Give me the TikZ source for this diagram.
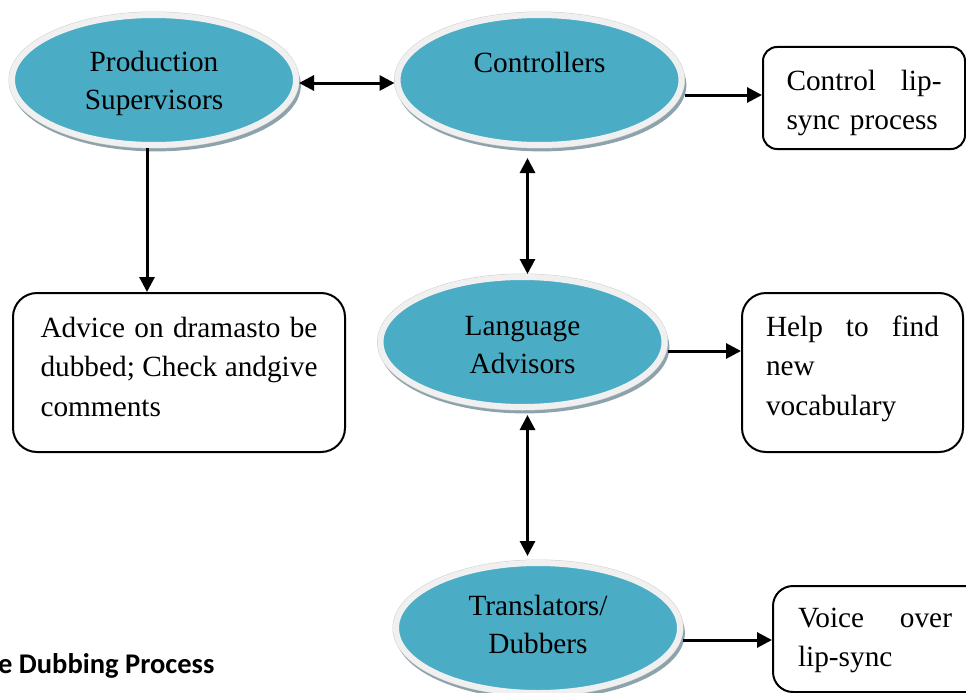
\documentclass[tikz,border=0pt]{standalone}
\usepackage{fontspec}
\setmainfont{Liberation Serif}
\newfontfamily\capfont{Carlito}
\usetikzlibrary{shapes.geometric,shadows,arrows.meta}

\definecolor{ovalfill}{RGB}{75,172,198}
\definecolor{ovalrim}{RGB}{240,240,240}
\definecolor{ovaledge}{RGB}{208,208,208}
\definecolor{ovalshade}{RGB}{140,163,171}

\tikzset{
  oval/.style={ellipse, minimum width=284pt, minimum height=130pt, inner sep=-60pt,
    drop shadow={shadow xshift=2pt, shadow yshift=-5pt, shadow scale=1.02,
                 fill=ovalshade, opacity=1},
    preaction={draw=ovaledge, line width=7pt},
    fill=ovalfill, draw=ovalrim, line width=6pt,
    text width=270pt, align=center, text height=20pt,
    font=\fontsize{29.3}{38}\selectfont},
  note/.style={rectangle, draw=black, line width=2pt, inner sep=0pt, align=left,
    font=\fontsize{29.3}{39.5}\selectfont},
  tip/.tip={Triangle[length=15pt,width=15pt]},
  link/.style={line width=3pt, -tip},
  twoway/.style={line width=3pt, tip-tip},
}

\begin{document}
\begin{tikzpicture}[x=1pt, y=-1pt]
\useasboundingbox (0,0) rectangle (966,693);
\clip (0,0) rectangle (966,693);

% roles
\node[oval, text depth=38pt] (ps)    at (154,80)    {Production\\Supervisors};
\node[oval, text depth=36pt] (ctl)   at (539.5,80)  {Controllers};
\node[oval, text depth=34pt] (lang)  at (522.5,342) {Language\\Advisors};
\node[oval, text depth=46pt] (trans) at (538,628)   {Translators/\\Dubbers};

% tasks
\node[note, rounded corners=14pt, minimum width=202pt, minimum height=102pt,
      text width=155pt, text height=43pt, text depth=59pt] (lip) at (864,98)
      {Control\hfill lip-\\sync process};
\node[note, rounded corners=24pt, minimum width=332pt, minimum height=159pt,
      text width=277pt, text height=44pt, text depth=115pt] (adv) at (179,372.5)
      {Advice\hfill on\hfill dramasto\hfill be\\dubbed;\hfill Check\hfill andgive\\comments};
\node[note, rounded corners=24pt, minimum width=221pt, minimum height=159pt,
      text width=173pt, text height=43pt, text depth=116pt] (help) at (852.5,372.5)
      {Help\hfill to\hfill find\\new\\vocabulary};
\node[note, rounded corners=20pt, minimum width=250pt, minimum height=106pt,
      text width=200pt, text height=41pt, text depth=65pt] (voice) at (898,639)
      {\makebox[154pt][l]{Voice\hfill over}\\lip-sync};

% caption
\node[anchor=base west, inner sep=0pt,
      font=\capfont\bfseries\fontsize{28.5}{30}\selectfont] (cap) at (-2,673)
      {e Dubbing Process};

% connectors
\draw[twoway] ([yshift=-3pt]ps.east) -- ([yshift=-3pt]ctl.west);

\coordinate (a1) at ([yshift=-15pt]ctl.east);
\draw[link] (a1) -- (a1 -| lip.west);

\coordinate (a2) at ([xshift=-7pt]ps.south);
\draw[link] (a2) -- (a2 |- adv.north);

\coordinate (a3) at ([xshift=-12pt,yshift=-10pt]ctl.south);
\draw[twoway] (a3) -- (a3 |- lang.north);

\coordinate (a4) at ([xshift=5pt,yshift=-5pt]lang.south);
\draw[twoway, shorten >=4pt] (a4) -- (a4 |- trans.north);

\coordinate (a5) at ([yshift=-9pt]lang.east);
\draw[link] (a5) -- (a5 -| help.west);

\coordinate (a6) at ([yshift=-12pt]trans.east);
\draw[link] (a6) -- (a6 -| voice.west);
\end{tikzpicture}
\end{document}
